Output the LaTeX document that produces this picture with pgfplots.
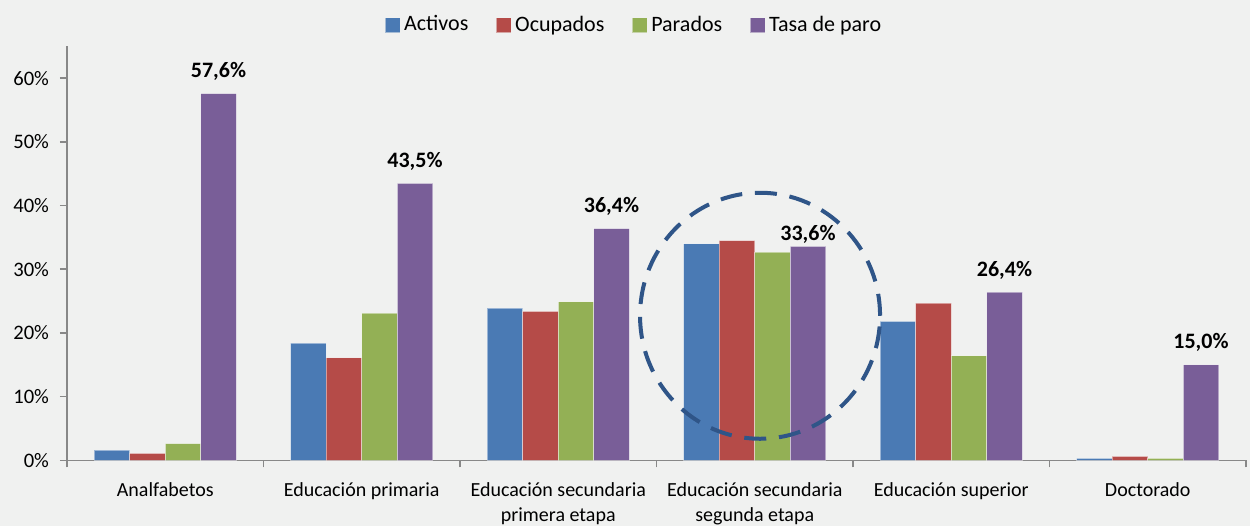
\documentclass[border=0pt]{standalone}
\usepackage{fontspec}
\setmainfont{Carlito}
\usepackage{pgfplots}
\pgfplotsset{compat=1.18}
\usepackage{pgfplotstable}
\definecolor{cbg}{HTML}{F0F1F0}
\definecolor{cblue}{HTML}{4A7AB4}
\definecolor{cred}{HTML}{B54B48}
\definecolor{cgreen}{HTML}{93B055}
\definecolor{cpurple}{HTML}{795E98}
\definecolor{caxis}{HTML}{888888}
\definecolor{ccircle}{HTML}{2F5588}

\pgfplotstableread{
x act ocu par tasa dy
0 1.6 1.1 2.6 57.6 0
1 18.4 16.1 23.1 43.5 0
2 23.9 23.4 24.9 36.4 0
3 34.0 34.5 32.7 33.6 -5
4 21.8 24.7 16.4 26.4 0
5 0.3 0.6 0.3 15.0 0
}\datatable

\pgfplotsset{
  mybar/.style={fill=#1, draw=white, draw opacity=0.45, line width=0.4pt,
    legend image code/.code={\fill[#1] (0pt,-3.6pt) rectangle (7pt,3.4pt);}},
}

\begin{document}
\begin{tikzpicture}
\fill[cbg] (-33.5pt,-32.85pt) rectangle (591.5pt,230.15pt);
\begin{axis}[
  at={(0,0)}, anchor=south west,
  scale only axis, width=589.5pt, height=206.95pt,
  ymin=0, ymax=65, xmin=-0.5, xmax=5.5,
  ybar=0pt, bar width=0.1807,
  axis x line*=bottom, axis y line*=left,
  axis line style={caxis, line width=0.8pt},
  tick align=outside,
  ytick={0,10,...,60},
  yticklabels={0\%,10\%,20\%,30\%,40\%,50\%,60\%},
  major tick length=3.5pt, minor tick length=3.5pt,
  tick style={caxis, line width=0.8pt},
  xtick={0,...,5},
  minor xtick={-0.5,0.5,...,5.5},
  major x tick style={draw=none},
  xticklabels={Analfabetos, Educación primaria, {Educación secundaria\\primera etapa}, {Educación secundaria\\segunda etapa}, Educación superior, Doctorado},
  xticklabel style={align=center, font=\fontsize{10}{12.5}\selectfont, yshift=-4pt},
  yticklabel style={font=\fontsize{10.3}{12}\selectfont, xshift=-2pt},
  /pgf/number format/assume math mode=true,
  legend columns=4,
  legend style={at={(0.482,1)}, anchor=south, yshift=2pt, draw=none, fill=none,
    font=\fontsize{11}{13}\selectfont,
    /tikz/every even column/.append style={column sep=12pt}},
]
\addplot[mybar=cblue] table[x=x,y=act]{\datatable};
\addlegendentry{Activos}
\addplot[mybar=cred] table[x=x,y=ocu]{\datatable};
\addlegendentry{Ocupados}
\addplot[mybar=cgreen] table[x=x,y=par]{\datatable};
\addlegendentry{Parados}
\addplot[mybar=cpurple, point meta=y,
  visualization depends on={\thisrow{dy} \as \dy},
  nodes near coords={\pgfmathprintnumber[fixed,fixed zerofill,precision=1,use comma]{\pgfplotspointmeta}\%},
  every node near coord/.append style={font=\bfseries\fontsize{11}{13}\selectfont, black, anchor=south, yshift={(3+\dy)*1pt}}
] table[x=x,y=tasa]{\datatable};
\addlegendentry{Tasa de paro}
\draw[ccircle, line width=2pt, dash pattern=on 11pt off 6.4pt] (axis cs:3.027,22.7) ellipse [x radius=60pt, y radius=61.5pt];
\end{axis}
\pgfresetboundingbox
\path (-33.5pt,-32.85pt) rectangle (591.5pt,230.15pt);
\end{tikzpicture}
\end{document}
